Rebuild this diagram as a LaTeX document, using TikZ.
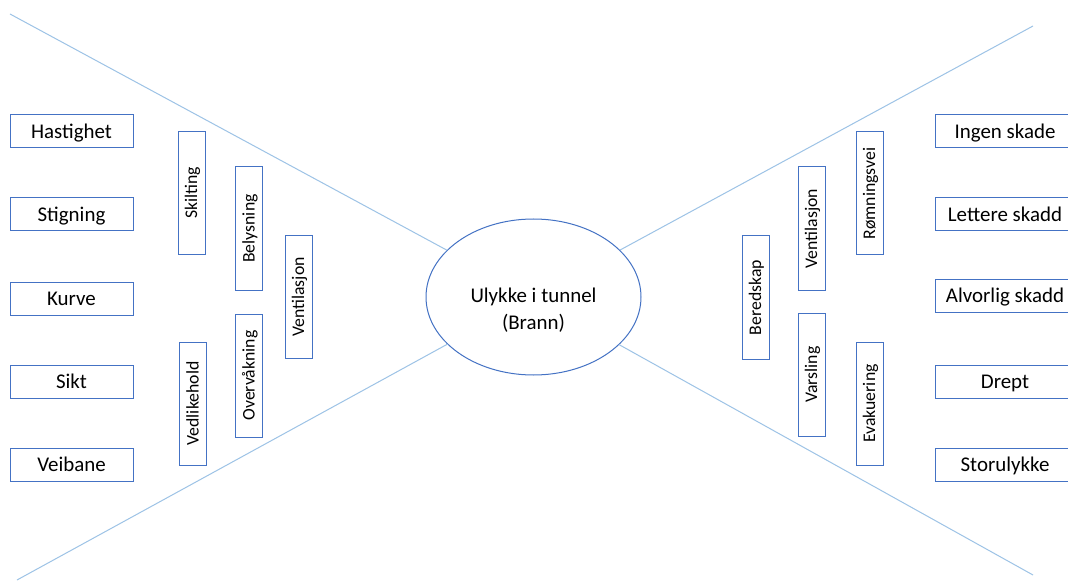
\documentclass[tikz,border=0pt]{standalone}
\usepackage{fontspec}
\setmainfont{Carlito}
\usepackage{xcolor}
\usetikzlibrary{shapes,positioning}

\definecolor{boxblue}{RGB}{68,114,196}
\definecolor{wingblue}{RGB}{157,195,230}

\begin{document}
\begin{tikzpicture}[
    x=0.75pt, y=-0.75pt,
    cause/.style={rectangle, draw=boxblue, line width=0.75pt, fill=white,
        minimum width=92.25pt, minimum height=24.75pt, inner sep=0pt,
        text height=13pt, text depth=3pt,
        text centered, font=\fontsize{15.7}{18}\selectfont},
    barrier/.style={rectangle, draw=boxblue, line width=0.75pt, fill=white,
        rotate=90, minimum width=92.25pt, minimum height=20.25pt, inner sep=0pt,
        text height=11pt, text depth=2.4pt,
        text centered, font=\fontsize{13.3}{16}\selectfont},
    event/.style={ellipse, draw=boxblue, line width=0.75pt,
        minimum width=161.25pt, minimum height=117pt, inner sep=0pt},
    eventtext/.style={align=center, inner sep=0pt,
        font=\fontsize{15.7}{20}\selectfont},
    wing/.style={draw=wingblue, line width=0.75pt}
]
    \path[use as bounding box, fill=white] (0,0) rectangle (1068,581);
    \clip (0,0) rectangle (1068,581);

    % top event
    \node[event] (ulykke) at (533.5,297) {};
    \node[eventtext] (ulykketekst) at (533.5,310) {Ulykke i tunnel\\(Brann)};

    % bow-tie wings
    \coordinate (tl) at (10,14);
    \coordinate (bl) at (17,580);
    \coordinate (tr) at (1033,26);
    \coordinate (br) at (1033,575);
    \draw[wing] (tl) -- (ulykke);
    \draw[wing] (bl) -- (ulykke);
    \draw[wing] (tr) -- (ulykke);
    \draw[wing] (br) -- (ulykke);

    % causes
    \node[cause] (hastighet) at (71.5,131.5) {Hastighet};
    \node[cause] (stigning) at (71.5,214.5) {Stigning};
    \node[cause] (kurve) at (71.5,298.5) {Kurve};
    \node[cause] (sikt) at (71.5,382) {Sikt};
    \node[cause] (veibane) at (71.5,464.5) {Veibane};

    % preventive barriers
    \node[barrier] (skilting) at (191.5,193) {Skilting};
    \node[barrier] (belysning) at (249,228.5) {Belysning};
    \node[barrier] (ventL) at (298.5,297) {Ventilasjon};
    \node[barrier] (overvakning) at (249,375.5) {Overvåkning};
    \node[barrier] (vedlikehold) at (193,403.5) {Vedlikehold};

    % mitigating barriers
    \node[barrier] (beredskap) at (755.5,297.5) {Beredskap};
    \node[barrier] (ventR) at (811.5,228.5) {Ventilasjon};
    \node[barrier] (romningsvei) at (869.5,193.5) {Rømningsvei};
    \node[barrier] (varsling) at (811.5,374.5) {Varsling};
    \node[barrier] (evakuering) at (869.5,403.5) {Evakuering};

    % consequences
    \node[cause, minimum width=105pt] (ingen) at (1005,131.5) {Ingen skade};
    \node[cause, minimum width=105pt] (lettere) at (1005,214.5) {Lettere skadd};
    \node[cause, minimum width=105pt] (alvorlig) at (1005,295.5) {Alvorlig skadd};
    \node[cause, minimum width=105pt] (drept) at (1005,382) {Drept};
    \node[cause, minimum width=105pt] (storulykke) at (1005,464.5) {Storulykke};
\end{tikzpicture}
\end{document}
